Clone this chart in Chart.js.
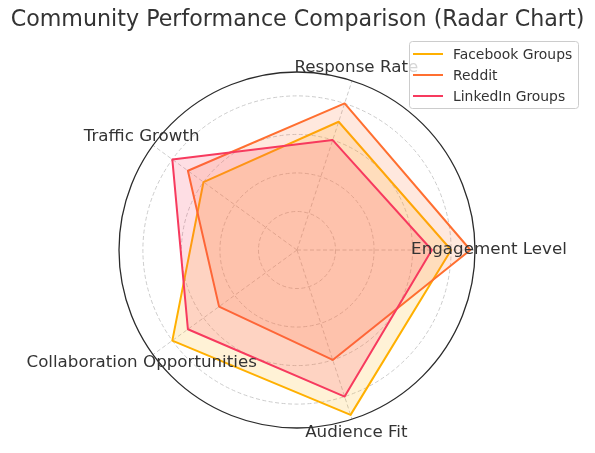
<!DOCTYPE html>
<html>
<head>
<meta charset="utf-8">
<script src="https://cdn.jsdelivr.net/npm/chart.js@4/dist/chart.umd.min.js"></script>
<style>
  html, body { margin: 0; padding: 0; background: #ffffff; }
  #wrap { width: 595px; height: 453px; position: relative; }
</style>
</head>
<body>
<div id="wrap"><canvas id="c" width="595" height="453"></canvas></div>
<script>
// Categories in the order they appear counter-clockwise from the right-hand axis
const categories = ['Engagement Level', 'Response Rate', 'Traffic Growth', 'Collaboration Opportunities', 'Audience Fit'];
const seriesNames = ['Facebook Groups', 'Reddit', 'LinkedIn Groups'];
const facebookValues = [80, 70, 60, 80, 90];
const redditValues   = [90, 80, 70, 50, 60];
const linkedinValues = [70, 60, 80, 70, 80];
const radialTicks = [20, 40, 60, 80];
const radialMax = 92.4;

const lineColors = ['#FFB000', '#FF6F30', '#F73A5E'];
const fillColors = ['rgba(255,176,0,0.16)', 'rgba(255,111,48,0.16)', 'rgba(247,58,94,0.17)'];
const FONT = '"DejaVu Sans", "Liberation Sans", sans-serif';
const TEXT = '#333333';

// Chart.js goes clockwise from its start angle; reorder so the picture runs counter-clockwise
function toClockwise(arr) { return [arr[0]].concat(arr.slice(1).reverse()); }
const chartLabels = toClockwise(categories);
const allValues = [facebookValues, redditValues, linkedinValues];

const datasets = allValues.map((vals, i) => ({
  label: seriesNames[i],
  data: toClockwise(vals),
  borderColor: lineColors[i],
  backgroundColor: fillColors[i],
  borderWidth: 2,
  borderJoinStyle: 'round',
  fill: true,
  tension: 0,
  pointRadius: 0,
  pointHoverRadius: 0,
  order: allValues.length - i
}));

const decorPlugin = {
  id: 'decor',
  afterDraw(chart) {
    const ctx = chart.ctx;
    const scale = chart.scales.r;
    ctx.save();
    // outer solid circle
    ctx.beginPath();
    ctx.arc(scale.xCenter, scale.yCenter, scale.drawingArea, 0, Math.PI * 2);
    ctx.strokeStyle = '#2b2b2b';
    ctx.lineWidth = 1.3;
    ctx.setLineDash([]);
    ctx.stroke();

    // category labels, centred just outside the circle
    ctx.font = '16.7px ' + FONT;
    ctx.fillStyle = TEXT;
    ctx.textAlign = 'center';
    ctx.textBaseline = 'middle';
    chartLabels.forEach((lab, i) => {
      const p = scale.getPointPosition(i, scale.drawingArea + 14);
      ctx.fillText(lab, p.x, p.y);
    });

    // legend box (top right)
    const bx = 409.5, by = 41.5, bw = 169, bh = 67, rr = 3;
    ctx.beginPath();
    ctx.moveTo(bx + rr, by);
    ctx.lineTo(bx + bw - rr, by);
    ctx.arcTo(bx + bw, by, bx + bw, by + rr, rr);
    ctx.lineTo(bx + bw, by + bh - rr);
    ctx.arcTo(bx + bw, by + bh, bx + bw - rr, by + bh, rr);
    ctx.lineTo(bx + rr, by + bh);
    ctx.arcTo(bx, by + bh, bx, by + bh - rr, rr);
    ctx.lineTo(bx, by + rr);
    ctx.arcTo(bx, by, bx + rr, by, rr);
    ctx.closePath();
    ctx.fillStyle = 'rgba(255,255,255,0.8)';
    ctx.fill();
    ctx.strokeStyle = '#cccccc';
    ctx.lineWidth = 1;
    ctx.stroke();

    ctx.font = '13.9px ' + FONT;
    ctx.textAlign = 'left';
    ctx.textBaseline = 'middle';
    chart.data.datasets.forEach((ds, i) => {
      const y = 54 + i * 21;
      ctx.beginPath();
      ctx.moveTo(413, y);
      ctx.lineTo(443, y);
      ctx.strokeStyle = ds.borderColor;
      ctx.lineWidth = 2;
      ctx.stroke();
      ctx.fillStyle = TEXT;
      ctx.fillText(ds.label, 453, y + 1);
    });
    ctx.restore();
  }
};

new Chart(document.getElementById('c'), {
  type: 'radar',
  data: { labels: chartLabels, datasets: datasets },
  options: {
    responsive: false,
    animation: false,
    devicePixelRatio: 1,
    layout: { padding: { top: 0, bottom: 24, left: 0, right: 0 } },
    elements: { line: { borderWidth: 2 } },
    plugins: {
      legend: { display: false },
      tooltip: { enabled: false },
      title: {
        display: true,
        text: 'Community Performance Comparison (Radar Chart)',
        color: TEXT,
        font: { family: FONT, size: 22.2, weight: 'normal', lineHeight: 1.2 },
        padding: { top: 7.3, bottom: 37.1 }
      }
    },
    scales: {
      r: {
        min: 0,
        max: radialMax,
        startAngle: 90,
        afterBuildTicks(scale) {
          scale.ticks = [0].concat(radialTicks).map(v => ({ value: v }));
        },
        ticks: { display: false, stepSize: 20 },
        pointLabels: { display: false },
        grid: {
          circular: true,
          color: (c) => radialTicks.includes(c.tick && c.tick.value) ? '#cccccc' : 'rgba(0,0,0,0)',
          lineWidth: 1
        },
        border: { dash: [4, 2.5] },
        angleLines: { color: '#cccccc', lineWidth: 1, borderDash: [4, 2.5] }
      }
    }
  },
  plugins: [decorPlugin]
});
</script>
</body>
</html>
